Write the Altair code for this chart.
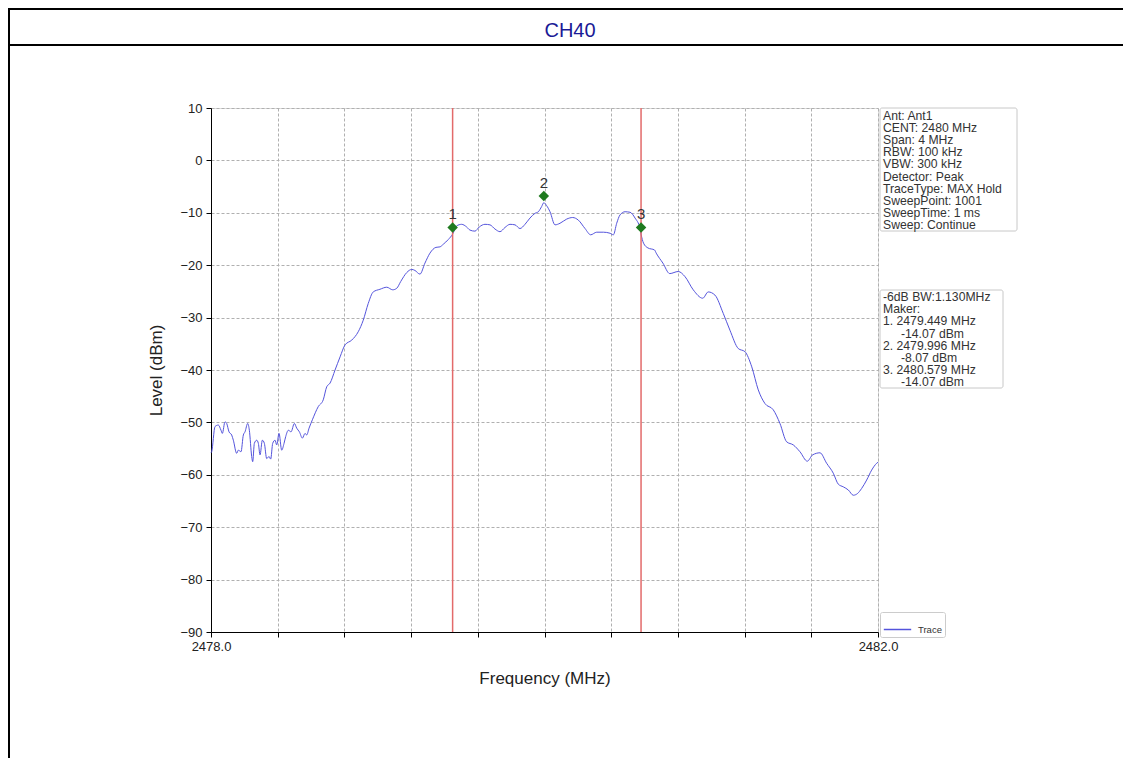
import altair as alt
import pandas as pd

# ---------------- data ----------------
FREQ = [2478.000, 2478.004, 2478.024, 2478.044, 2478.060, 2478.068, 2478.084, 2478.094,
        2478.108, 2478.124, 2478.134, 2478.154, 2478.164, 2478.180, 2478.194, 2478.204,
        2478.220, 2478.230, 2478.244, 2478.250, 2478.260, 2478.274, 2478.284, 2478.294,
        2478.308, 2478.320, 2478.334, 2478.348, 2478.358, 2478.370, 2478.384, 2478.394,
        2478.408, 2478.424, 2478.438, 2478.448, 2478.464, 2478.480, 2478.500, 2478.514,
        2478.530, 2478.548, 2478.564, 2478.574, 2478.588, 2478.608, 2478.643, 2478.673,
        2478.694, 2478.714, 2478.744, 2478.774, 2478.804, 2478.844, 2478.883, 2478.913,
        2478.943, 2478.973, 2479.013, 2479.054, 2479.090, 2479.114, 2479.138, 2479.174,
        2479.204, 2479.223, 2479.253, 2479.283, 2479.313, 2479.349, 2479.373, 2479.393,
        2479.423, 2479.449, 2479.473, 2479.503, 2479.533, 2479.553, 2479.583, 2479.609,
        2479.643, 2479.673, 2479.703, 2479.733, 2479.763, 2479.793, 2479.823, 2479.853,
        2479.883, 2479.913, 2479.943, 2479.963, 2479.983, 2479.996, 2480.012, 2480.033,
        2480.063, 2480.093, 2480.133, 2480.169, 2480.203, 2480.243, 2480.277, 2480.313,
        2480.353, 2480.393, 2480.413, 2480.433, 2480.453, 2480.483, 2480.513, 2480.543,
        2480.573, 2480.579, 2480.594, 2480.620, 2480.660, 2480.670, 2480.710, 2480.751,
        2480.802, 2480.843, 2480.892, 2480.949, 2480.982, 2481.022, 2481.072, 2481.112,
        2481.162, 2481.202, 2481.243, 2481.282, 2481.322, 2481.372, 2481.412, 2481.452,
        2481.492, 2481.532, 2481.576, 2481.608, 2481.652, 2481.692, 2481.732, 2481.762,
        2481.792, 2481.822, 2481.852, 2481.876, 2481.902, 2481.932, 2481.962, 2481.992,
        2482.000]
LEVEL = [-55.8, -55.6, -50.8, -50.5, -51.5, -52.1, -49.9, -50.2,
         -51.8, -52.4, -53.4, -55.9, -55.3, -55.6, -52.4, -51.8,
         -50.2, -51.5, -56.5, -57.5, -54.0, -53.4, -54.0, -56.2,
         -53.4, -54.0, -56.9, -56.5, -57.0, -54.0, -53.4, -54.3,
         -52.1, -55.3, -54.0, -52.7, -51.5, -51.8, -50.2, -51.1,
         -51.8, -53.0, -52.1, -52.4, -51.1, -49.5, -47.0, -45.7,
         -43.2, -42.5, -40.0, -37.5, -35.2, -34.3, -32.7, -30.5,
         -27.3, -25.1, -24.6, -24.2, -24.7, -24.4, -23.1, -21.4,
         -20.8, -21.0, -21.7, -19.6, -17.7, -16.6, -16.5, -16.0,
         -15.1, -14.07, -12.5, -12.2, -12.7, -13.3, -13.5, -12.7,
         -12.2, -12.3, -13.1, -13.6, -12.8, -12.2, -12.3, -13.0,
         -12.2, -11.0, -10.1, -9.8, -8.8, -8.07, -8.6, -9.8,
         -12.3, -12.0, -11.2, -10.9, -11.4, -13.0, -14.2, -13.7,
         -13.7, -13.9, -14.2, -12.0, -10.4, -9.8, -9.9, -11.0,
         -13.0, -14.07, -15.8, -16.7, -17.1, -17.7, -19.6, -21.6,
         -21.2, -22.2, -24.7, -26.3, -25.1, -25.7, -29.2, -32.4,
         -35.9, -36.5, -39.4, -43.8, -46.4, -47.6, -50.2, -53.7,
         -54.3, -55.6, -57.4, -56.2, -55.8, -57.8, -59.7, -61.8,
         -62.3, -62.9, -63.9, -63.6, -62.6, -61.0, -59.1, -57.8,
         -57.6]

MARKER_FREQ = [2479.449, 2479.996, 2480.579]
MARKER_Y = [-12.8, -6.8, -12.8]          # where the diamonds are drawn
MARKER_LABEL = ["1", "2", "3"]
LIMIT_FREQ = [2479.449, 2480.579]        # red -6 dB lines

X_TICKS = [2478.0, 2478.4, 2478.8, 2479.2, 2479.6, 2480.0,
           2480.4, 2480.8, 2481.2, 2481.6, 2482.0]
Y_TICKS = [10, 0, -10, -20, -30, -40, -50, -60, -70, -80, -90]

INFO_LINES = ["Ant: Ant1", "CENT: 2480 MHz", "Span: 4 MHz", "RBW: 100 kHz",
              "VBW: 300 kHz", "Detector: Peak", "TraceType: MAX Hold",
              "SweepPoint: 1001", "SweepTime: 1 ms", "Sweep: Continue"]
MARKER_LINES = ["-6dB BW:1.130MHz", "Maker:",
                "1. 2479.449 MHz", "-14.07 dBm",
                "2. 2479.996 MHz", "-8.07 dBm",
                "3. 2480.579 MHz", "-14.07 dBm"]
MARKER_INDENT = [False, False, False, True, False, True, False, True]
TITLE = "CH40"

# ---------------- chart ----------------
FONT = "Liberation Sans"
W, H = 667, 524
PAD = {"left": 203, "top": 100, "right": 245, "bottom": 126}
BOX_FS = 12.2
BOX_LH = 12.2

trace = pd.DataFrame({"freq": FREQ, "level": LEVEL, "series": ["Trace"] * len(FREQ)})
markers = pd.DataFrame({"freq": MARKER_FREQ, "y": MARKER_Y, "label": MARKER_LABEL})
limits = pd.DataFrame({"freq": LIMIT_FREQ})
one = pd.DataFrame({"k": [0]})

xscale = alt.Scale(domain=[2478, 2482], nice=False, zero=False)
yscale = alt.Scale(domain=[-90, 10], nice=False, zero=False)

x_axis = alt.Axis(
    values=X_TICKS,
    labelExpr="(datum.value < 2478.01 || datum.value > 2481.99) ? format(datum.value, '.1f') : ''",
    title="Frequency (MHz)", labelFlush=False, labelOverlap=False,
    grid=True, gridDash=[3, 2], gridColor="#b0b0b0", gridWidth=1,
    domainColor="black", tickColor="black", tickSize=5,
    labelFontSize=13, labelColor="#222222", labelPadding=3,
    titleFontSize=17, titleFontWeight="normal", titleColor="#222222", titlePadding=17,
)
y_axis = alt.Axis(
    values=Y_TICKS, format="d", title="Level (dBm)",
    grid=True, gridDash=[3, 2], gridColor="#b0b0b0", gridWidth=1,
    domainColor="black", tickColor="black", tickSize=5,
    labelFontSize=13, labelColor="#222222", labelPadding=4,
    titleFontSize=17, titleFontWeight="normal", titleColor="#222222", titlePadding=14,
)

line = alt.Chart(trace).mark_line(strokeWidth=1, interpolate="monotone").encode(
    x=alt.X("freq:Q", scale=xscale, axis=x_axis),
    y=alt.Y("level:Q", scale=yscale, axis=y_axis),
    color=alt.Color("series:N", scale=alt.Scale(domain=["Trace"], range=["#5454dc"]),
                    legend=alt.Legend(orient="none", legendX=669, legendY=504, title=None,
                                      symbolType="stroke", symbolSize=750, symbolStrokeWidth=1.5,
                                      labelFontSize=9.5, labelColor="#333333", padding=3,
                                      labelOffset=6,
                                      strokeColor="#cccccc", fillColor="white", cornerRadius=2,
                                      labelFont=FONT)),
)

redlines = alt.Chart(limits).mark_rule(color="#e36a6a", strokeWidth=1.5).encode(
    x=alt.X("freq:Q", scale=xscale)
)

diamonds = alt.Chart(markers).mark_point(shape="diamond", filled=True, color="#1f7a1f",
                                         size=110, opacity=1).encode(
    x=alt.X("freq:Q", scale=xscale), y=alt.Y("y:Q", scale=yscale))

mlabels = alt.Chart(markers).mark_text(fontSize=15, color="#333333", baseline="bottom",
                                       dy=-5, font=FONT).encode(
    x=alt.X("freq:Q", scale=xscale), y=alt.Y("y:Q", scale=yscale), text="label:N")

# annotation boxes (right of plot)
box1 = alt.Chart(one).mark_rect(fill="white", stroke="#c8c8c8", strokeWidth=1, cornerRadius=2).encode(
    x=alt.value(669), x2=alt.value(806), y=alt.value(0), y2=alt.value(123))
box1_lines = [
    alt.Chart(one).mark_text(text=txt, align="left", baseline="top", fontSize=BOX_FS,
                             color="#333333", font=FONT).encode(
        x=alt.value(672), y=alt.value(1.5 + BOX_LH * i))
    for i, txt in enumerate(INFO_LINES)
]
box2 = alt.Chart(one).mark_rect(fill="white", stroke="#c8c8c8", strokeWidth=1, cornerRadius=2).encode(
    x=alt.value(669), x2=alt.value(792), y=alt.value(182), y2=alt.value(280))
box2_lines = [
    alt.Chart(one).mark_text(text=txt, align="left", baseline="top", fontSize=BOX_FS,
                             color="#333333", font=FONT).encode(
        x=alt.value(690 if ind else 672), y=alt.value(183 + BOX_LH * i))
    for i, (txt, ind) in enumerate(zip(MARKER_LINES, MARKER_INDENT))
]

# page frame and title cell
frame_top = alt.Chart(one).mark_rule(color="black", strokeWidth=2).encode(
    x=alt.value(-203), x2=alt.value(912), y=alt.value(-99))
frame_mid = alt.Chart(one).mark_rule(color="black", strokeWidth=2).encode(
    x=alt.value(-203), x2=alt.value(912), y=alt.value(-63))
frame_left = alt.Chart(one).mark_rule(color="black", strokeWidth=2).encode(
    x=alt.value(-202), y=alt.value(-100), y2=alt.value(650))
title = alt.Chart(one).mark_text(text=TITLE, fontSize=20, color="#1a1a96", font=FONT,
                                 align="center", baseline="middle").encode(
    x=alt.value(359), y=alt.value(-77))

chart = alt.layer(
    line, redlines, diamonds, mlabels, box1, *box1_lines, box2, *box2_lines,
    frame_top, frame_mid, frame_left, title,
).properties(
    width=W, height=H, padding=PAD,
    autosize=alt.AutoSizeParams(type="none"),
    background="white",
).configure_view(
    stroke="black", strokeWidth=1
).configure(font=FONT)

chart.save("out.html", embed_options={"renderer": "svg", "actions": False})
